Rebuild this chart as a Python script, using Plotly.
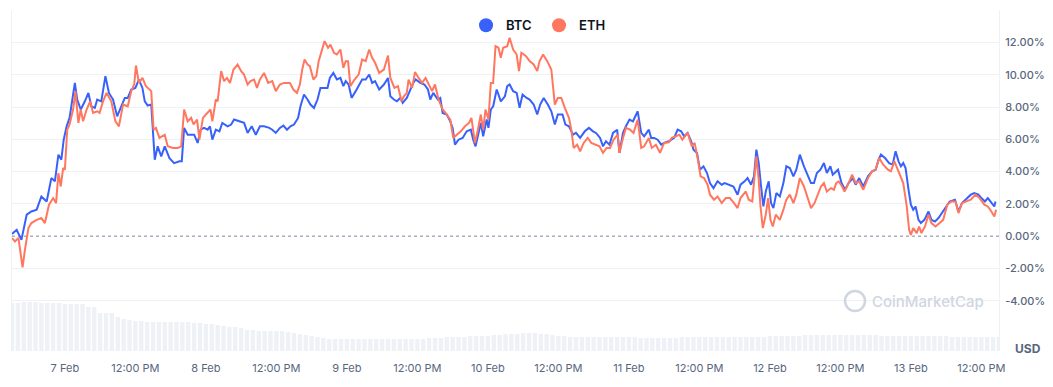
import pandas as pd
import plotly.graph_objects as go

START = pd.Timestamp("2024-02-06 15:00")

# ---- data (hours since start, % change) ----
btc_hours = [0, 0.8, 1.6, 2.5, 3.3, 4.2, 5.0, 5.9, 6.7, 7.3, 7.9, 8.4, 8.8, 9.3, 9.8, 10.3, 10.7, 11.1, 11.7, 12.4,
             13.0, 13.5, 14.1, 14.5, 15.2, 15.9, 16.5, 17.2, 17.9, 18.6, 19.2, 19.7, 20.3, 21.0, 21.6, 22.2, 22.6, 23.1, 23.7, 24.3,
             24.8, 25.4, 26.0, 26.8, 27.6, 28.5,
             28.9, 29.3, 29.9, 30.5, 31.0, 31.6, 32.1, 32.7, 33.3, 33.7, 34.1, 34.7, 35.3, 35.8, 36.7, 37.3, 37.8, 38.7, 39.5, 40.1,
             40.8, 41.5, 42.2, 42.9, 43.8, 44.3, 44.9, 45.6, 46.2, 46.8, 47.4, 48.0, 48.7, 49.1, 49.7, 50.3, 50.8, 51.4, 52.0, 52.5,
             53.1, 53.7, 54.1, 54.7, 55.3, 55.9, 56.4,
             56.8, 57.3, 57.8, 58.5, 59.0, 59.6, 60.2, 60.8, 61.3, 61.8, 62.5, 63.3, 64.0, 64.4, 65.0, 65.5, 66.1, 66.5, 67.2, 67.8,
             68.3, 68.7, 69.5, 70.2, 70.8, 71.2, 71.7, 72.5, 72.9, 73.3, 74.0, 74.6, 75.0, 75.4, 76.0, 76.7, 77.4, 78.1, 78.5, 78.9,
             79.4, 79.8, 80.2, 80.8, 81.1, 81.5, 81.9, 82.5, 83.2, 83.9, 84.3,
             84.7, 85.3, 85.9, 86.4, 86.9, 87.6, 88.1, 88.8, 89.4, 89.9, 90.5, 91.2, 91.8, 92.4, 92.9, 93.7, 94.2, 94.8, 95.5, 96.0,
             96.7, 97.5, 98.2, 98.9, 99.4, 100.1, 100.6, 101.1, 101.7, 102.3, 103.0, 103.4, 104.0, 104.5, 105.1, 105.7, 106.1, 106.5, 107.1, 107.6,
             108.4, 108.8, 109.3, 109.9, 110.5, 111.0, 111.8, 112.3,
             112.7, 113.3, 113.9, 114.4, 115.0, 115.6, 116.0, 116.6, 117.1, 117.7, 118.3, 118.8, 119.4, 120.1, 120.8, 121.3, 122.1, 122.8, 123.5, 124.0,
             124.7, 125.2, 125.8, 126.3, 126.7, 127.1, 127.5, 127.9, 128.3, 128.8, 129.2, 129.6, 130.1, 130.7, 131.3, 131.8, 132.4, 133.0, 133.5, 134.1,
             134.8, 135.3, 136.0, 136.5, 137.0, 137.6, 138.2, 138.7, 139.3, 139.7, 140.3,
             140.6, 141.2, 141.8, 142.4, 143.1, 143.6, 144.2, 144.9, 145.7, 146.4, 147.0, 147.5, 147.9, 148.6, 149.3, 149.9, 150.4, 150.9, 151.3, 151.7,
             152.1, 152.6, 153.0, 153.4, 153.8, 154.3, 154.7, 155.3, 156.0, 156.5, 157.1, 157.7, 158.3, 159.1, 159.6, 160.5, 161.1, 161.7, 162.5, 163.2,
             163.8, 164.5, 165.0, 165.6, 166.1, 166.7, 167.2, 167.4]
btc_pct = [0.14, 0.39, -0.23, 1.33, 1.53, 1.64, 2.46, 2.15, 3.60, 3.40, 5.05, 4.74, 5.98, 6.81, 7.33, 8.67, 9.50, 8.47, 7.85, 8.36,
           8.88, 8.05, 7.95, 8.47, 8.36, 9.92, 8.88, 8.47, 7.43, 8.05, 8.57, 8.57, 9.09, 9.19, 9.71, 9.19, 8.36, 8.10, 8.16, 4.74,
           5.57, 4.95, 5.57, 4.84, 4.53, 4.64,
           4.64, 6.71, 6.29, 6.29, 6.29, 5.78, 6.60, 6.71, 6.60, 6.81, 5.98, 6.60, 6.50, 7.02, 6.81, 6.92, 7.23, 7.12, 7.02, 6.40,
           6.81, 6.29, 6.81, 6.81, 6.71, 6.60, 6.40, 6.71, 6.85, 6.60, 6.81, 6.92, 7.33, 8.05, 8.78, 8.47, 8.16, 7.95, 8.47, 9.19,
           9.19, 9.19, 9.81, 10.12, 9.71, 9.81, 9.30,
           9.61, 9.40, 8.57, 8.99, 9.30, 9.71, 9.71, 10.02, 9.50, 9.61, 9.09, 9.40, 9.81, 8.67, 8.47, 8.36, 8.57, 8.26, 8.57, 9.09,
           9.50, 9.71, 9.50, 9.40, 9.09, 8.47, 8.88, 8.47, 8.57, 7.64, 7.54, 7.12, 6.71, 5.67, 5.98, 6.09, 6.50, 6.60, 5.98, 5.57,
           6.50, 7.02, 6.19, 7.23, 6.71, 7.85, 8.05, 9.09, 8.36, 8.67, 9.30,
           9.40, 8.99, 8.88, 7.95, 8.78, 8.57, 8.47, 8.16, 7.54, 8.16, 8.57, 8.16, 7.74, 6.92, 7.54, 7.54, 6.92, 6.81, 6.29, 6.40,
           6.09, 6.50, 6.71, 6.50, 6.40, 6.09, 5.57, 5.88, 5.67, 6.40, 6.60, 5.16, 6.40, 6.81, 7.23, 7.12, 7.47, 7.74, 6.40, 6.19,
           6.60, 6.09, 6.09, 5.98, 5.67, 5.78, 5.88, 5.98,
           6.09, 6.60, 6.50, 6.19, 6.40, 5.88, 5.36, 5.16, 4.12, 4.33, 3.91, 3.29, 2.98, 3.40, 3.19, 3.29, 3.19, 3.08, 2.57, 3.19,
           3.40, 3.60, 3.19, 3.71, 5.36, 4.53, 3.08, 1.84, 2.77, 3.40, 2.05, 1.74, 2.67, 2.46, 3.29, 4.33, 4.22, 3.71, 4.12, 5.05,
           4.33, 3.91, 3.29, 3.29, 3.91, 4.12, 4.53, 3.91, 4.33, 3.81, 4.02,
           4.12, 3.29, 2.88, 3.29, 3.60, 3.19, 3.60, 3.08, 3.71, 4.02, 4.12, 4.74, 5.05, 4.84, 4.53, 4.43, 5.26, 4.64, 4.33, 4.53,
           4.22, 2.88, 1.95, 1.64, 1.84, 1.01, 0.81, 1.01, 1.53, 1.01, 0.91, 1.12, 1.43, 1.84, 2.15, 2.26, 1.53, 2.05, 2.36, 2.57,
           2.67, 2.57, 2.36, 2.15, 2.36, 2.05, 1.84, 2.15]

eth_hours = [0, 0.5, 1.1, 1.8, 2.2, 2.8, 3.3, 4.2, 5.0, 5.6, 6.3, 7.0, 7.5, 7.9, 8.3, 8.7, 9.0, 9.4, 9.8, 10.4,
             10.8, 11.3, 11.7, 12.1, 12.7, 13.3, 13.8, 14.5, 14.9, 15.5, 16.1, 16.9, 17.6, 18.2, 18.9, 19.7, 20.3, 20.8, 21.1, 21.6,
             22.2, 22.8, 23.7, 24.1, 24.5, 25.1, 26.0, 26.5, 27.4, 28.2,
             28.8, 29.3, 29.9, 30.5, 30.9, 31.5, 31.9, 32.5, 33.0, 33.8, 34.1, 34.7, 35.0, 35.6, 36.1, 36.6, 37.1, 37.7, 38.4, 39.0,
             39.5, 40.1, 40.6, 41.2, 41.7, 42.2, 42.9, 43.6, 44.3, 44.9, 45.6, 46.3, 47.3, 47.9, 48.5, 49.0, 49.4, 49.8, 50.3, 50.7,
             51.3, 51.8, 52.2, 52.8, 53.2, 53.8, 54.2, 54.8, 55.3, 55.9, 56.4,
             56.8, 57.2, 57.6, 58.3, 59.0, 59.6, 60.2, 60.8, 61.3, 61.8, 62.5, 63.3, 64.0, 64.4, 65.1, 65.7, 66.3, 66.7, 67.2, 67.5,
             68.1, 68.6, 69.2, 69.8, 70.4, 71.0, 71.5, 72.0, 72.6, 73.3, 73.8, 74.6, 75.1, 75.7, 76.4, 77.1, 77.8, 78.2, 78.8, 79.3,
             79.8, 80.2, 80.6, 81.1, 81.5, 81.9, 82.3, 82.8, 83.2, 83.6, 84.3,
             84.7, 85.3, 85.9, 86.3, 86.7, 87.5, 88.1, 88.8, 89.4, 89.8, 90.4, 91.1, 91.8, 92.1, 92.4, 92.9, 93.5, 94.1, 94.8, 95.2,
             95.6, 96.2, 96.7, 97.3, 98.0, 98.6, 99.3, 100.0, 100.6, 101.2, 101.8, 102.4, 103.1, 103.4, 104.0, 104.5, 105.2, 105.8, 106.5, 107.1,
             107.6, 108.4, 108.9, 109.6, 110.3, 111.0, 111.8, 112.3,
             113.0, 113.6, 114.1, 115.0, 115.7, 116.2, 116.8, 117.2, 117.8, 118.4, 118.8, 119.5, 120.1, 120.8, 121.5, 122.2, 122.9, 123.5, 124.0, 124.9,
             125.4, 126.0, 126.7, 127.1, 127.4, 127.8, 128.3, 128.7, 129.1, 129.5, 130.0, 130.7, 131.3, 131.8, 132.4, 133.0, 133.5, 134.1, 134.8, 135.3,
             136.0, 136.6, 137.1, 137.7, 138.2, 138.7, 139.4, 139.9, 140.3,
             140.7, 141.3, 141.7, 142.4, 143.0, 143.6, 144.2, 144.9, 145.7, 146.4, 147.0, 147.6, 148.3, 149.1, 149.6, 150.2, 150.8, 151.3, 151.7, 152.3,
             152.7, 153.0, 153.4, 154.0, 154.4, 154.8, 155.4, 156.0, 156.5, 157.2, 157.8, 158.5, 159.2, 159.9, 160.6, 161.1, 161.7, 162.5, 163.2, 164.0,
             164.7, 165.5, 166.1, 166.7, 167.2, 167.5]
eth_pct = [-0.12, -0.33, -0.12, -1.93, -0.85, 0.50, 0.81, 1.01, 1.12, 0.81, 1.95, 2.36, 2.05, 3.91, 3.08, 4.22, 4.12, 6.60, 6.92, 7.85,
           8.99, 7.02, 7.85, 7.12, 7.85, 8.36, 7.64, 7.74, 7.64, 8.36, 8.88, 8.36, 7.12, 6.81, 8.16, 8.05, 8.99, 9.40, 10.58, 9.50,
           9.81, 9.30, 8.99, 6.60, 6.71, 6.09, 6.29, 5.57, 5.47, 5.47,
           5.57, 7.85, 7.12, 7.33, 6.92, 7.23, 5.98, 7.33, 7.54, 7.85, 7.12, 8.47, 8.36, 10.23, 9.61, 9.81, 9.50, 10.33, 10.64, 10.23,
           10.02, 9.40, 9.61, 9.71, 9.19, 9.71, 10.12, 9.50, 9.61, 8.99, 9.40, 9.50, 9.50, 9.09, 8.88, 9.40, 10.33, 10.95, 10.64, 10.54,
           9.71, 9.92, 10.85, 11.68, 12.09, 11.68, 11.88, 11.37, 11.26, 11.57, 10.43,
           10.85, 10.85, 9.30, 9.71, 10.02, 10.95, 10.85, 11.57, 11.06, 10.75, 10.12, 10.33, 11.20, 9.81, 9.19, 9.30, 8.36, 8.67, 8.88, 9.71,
           9.19, 10.17, 9.81, 9.50, 9.81, 9.40, 8.99, 9.40, 8.47, 7.85, 7.64, 7.23, 6.09, 6.29, 6.50, 6.81, 7.02, 7.33, 5.78, 6.60,
           7.54, 6.60, 7.85, 7.23, 9.50, 9.50, 11.78, 11.68, 11.06, 11.68, 11.78,
           12.30, 11.57, 11.26, 10.23, 11.37, 11.16, 10.85, 10.64, 10.23, 10.85, 11.26, 10.85, 10.33, 8.99, 8.16, 8.57, 8.57, 7.95, 7.33, 6.60,
           5.47, 5.67, 5.26, 5.78, 6.09, 5.78, 5.67, 5.57, 5.16, 5.47, 5.47, 5.98, 6.29, 5.16, 6.09, 6.71, 6.60, 6.40, 7.23, 5.47,
           5.57, 6.09, 5.47, 5.67, 5.16, 5.78, 5.82, 6.09,
           6.19, 6.29, 5.98, 6.40, 5.57, 5.78, 4.64, 3.71, 3.60, 3.19, 2.57, 2.26, 2.46, 2.05, 2.36, 2.36, 2.05, 1.74, 2.36, 2.77,
           2.26, 2.15, 4.95, 3.50, 1.84, 0.50, 1.33, 2.36, 1.01, 0.60, 1.33, 1.01, 1.64, 2.26, 2.57, 2.05, 2.57, 3.60, 3.08, 2.57,
           1.74, 2.05, 2.57, 3.08, 3.29, 2.77, 2.98, 2.88, 3.29,
           3.40, 3.08, 2.77, 3.29, 3.81, 3.29, 3.40, 2.88, 3.60, 4.02, 4.12, 4.84, 4.43, 4.12, 4.02, 4.64, 4.12, 3.71, 3.29, 1.84,
           0.39, 0.08, 0.50, 0.19, 0.60, 0.19, 0.60, 1.33, 0.81, 0.60, 0.81, 1.01, 1.95, 2.15, 2.15, 1.43, 2.05, 2.15, 2.26, 2.57,
           2.36, 1.95, 1.84, 1.53, 1.22, 1.64]

# hourly volume (USD, billions)
volume = [48, 48, 49, 49, 49, 48, 48, 48, 48, 47, 47, 47, 47,
          44, 44, 38, 38, 38, 34, 32, 31, 30, 30, 29, 29,
          29, 29, 29, 29, 29, 29,
          28, 28, 27, 27,
          26, 25, 24, 24, 23,
          21, 21, 20, 20, 20, 20, 20, 19,
          18, 17, 16, 15, 14, 13,
          12, 12, 12, 12, 12, 12, 12, 12, 12, 12, 12, 12, 12, 12, 12, 12, 12,
          13, 13, 13, 14, 14, 14, 14, 15, 15, 15, 15, 16,
          16, 17, 17, 17, 18, 18, 18, 17, 17, 16,
          15, 15, 14, 14, 14, 14, 14, 14, 14, 14, 14, 14, 14, 14, 13, 13, 13, 13, 13, 13, 13,
          14, 14, 14, 14, 14, 14, 14, 14, 14, 14, 14, 14, 14,
          14, 14, 15, 15, 15, 15, 15, 15, 16, 16,
          16, 16, 16, 16, 16, 16, 16, 16, 16, 16, 16,
          15, 15, 15, 15, 15, 15, 15, 15, 15, 15, 15, 15,
          14, 14, 14, 14, 14, 14, 14, 14, 14]

series_names = ["BTC", "ETH"]
series_colors = ["#3861fb", "#ff775f"]

tick_hours = list(range(9, 169, 12))
tick_labels = ["7 Feb", "12:00 PM", "8 Feb", "12:00 PM", "9 Feb", "12:00 PM", "10 Feb",
               "12:00 PM", "11 Feb", "12:00 PM", "12 Feb", "12:00 PM", "13 Feb", "12:00 PM"]
y_ticks = [-4, -2, 0, 2, 4, 6, 8, 10, 12]
y_grid = [-4, -2, 2, 4, 6, 8, 10, 12, 14]


def to_time(hours):
    return [START + pd.Timedelta(hours=h) for h in hours]


fig = go.Figure()

fig.add_trace(go.Bar(
    x=to_time(range(len(volume))), y=volume, yaxis="y",
    marker=dict(color="#eef1f5", line=dict(width=0)),
    showlegend=False, hoverinfo="skip"))

for name, hrs, vals, col in [("BTC", btc_hours, btc_pct, series_colors[0]),
                             ("ETH", eth_hours, eth_pct, series_colors[1])]:
    fig.add_trace(go.Scatter(
        x=to_time(hrs), y=vals, yaxis="y2", mode="lines", name=name,
        line=dict(color=col, width=2), showlegend=False))

for name, col in zip(series_names, series_colors):
    fig.add_trace(go.Scatter(
        x=[None], y=[None], yaxis="y2", mode="markers", name=name,
        marker=dict(color=col, size=14, symbol="circle")))

label_font = dict(family="Inter", size=11, color="#58667e")

fig.update_layout(
    width=1053, height=387,
    margin=dict(l=12, r=54, t=10, b=36, autoexpand=False),
    paper_bgcolor="white", plot_bgcolor="white",
    bargap=0.25,
    font=dict(family="Inter"),
    xaxis=dict(
        range=[START, START + pd.Timedelta(hours=168)],
        tickmode="array",
        tickvals=to_time(tick_hours), ticktext=tick_labels,
        showgrid=False, zeroline=False, showline=False, ticks="",
        tickfont=label_font, ticklabelstandoff=9, automargin=False,
    ),
    yaxis=dict(range=[0, 341], visible=False, fixedrange=True),
    yaxis2=dict(
        overlaying="y", side="right", automargin=False,
        range=[-7.12, 14.02],
        tickmode="array", tickvals=y_ticks,
        ticktext=[f"{v:.2f}%" for v in y_ticks],
        tickfont=dict(family="Inter", size=11, color="#58667e", weight=500),
        showgrid=False, zeroline=False, ticks="", ticklabelstandoff=3,
        showline=True, mirror=True, linecolor="#eff2f5", linewidth=1,
        minor=dict(tickmode="array", tickvals=y_grid, showgrid=True,
                   gridcolor="#eff2f5", gridwidth=1, ticks=""),
    ),
    legend=dict(
        orientation="h", x=0.460, xanchor="left", y=0.955, yanchor="middle",
        bgcolor="rgba(255,255,255,0)",
        font=dict(family="Inter", size=13, color="#0d1421", weight=600),
        itemwidth=30, tracegroupgap=0,
        entrywidth=28, entrywidthmode="pixels",
    ),
    shapes=[dict(type="line", xref="paper", x0=0, x1=1, yref="y2", y0=0, y1=0,
                 line=dict(color="#7f8899", width=1, dash="dot"), layer="below")],
    annotations=[
        dict(text="CoinMarketCap", xref="paper", yref="paper",
             x=(986 - 12) / 987, y=(351 - 301) / 341, xanchor="right", yanchor="middle",
             showarrow=False, font=dict(family="Inter", size=15, color="#d0d6e1", weight=500)),
        dict(text="USD", xref="paper", yref="paper",
             x=(1013 - 12) / 987, y=(351 - 348) / 341, xanchor="left", yanchor="middle",
             showarrow=False, font=dict(family="Inter", size=12, color="#58667e", weight=700)),
    ],
)

# watermark logo ring
cx, cy, r = (855 - 12) / 987, (351 - 301) / 341, 10
fig.add_shape(type="circle", xref="paper", yref="paper",
              x0=cx - r / 987, x1=cx + r / 987, y0=cy - r / 341, y1=cy + r / 341,
              line=dict(color="#d0d6e1", width=2.5), layer="above")

fig.write_html("out.html", config={"displayModeBar": False},
               post_script="document.body.style.margin='0px';")
